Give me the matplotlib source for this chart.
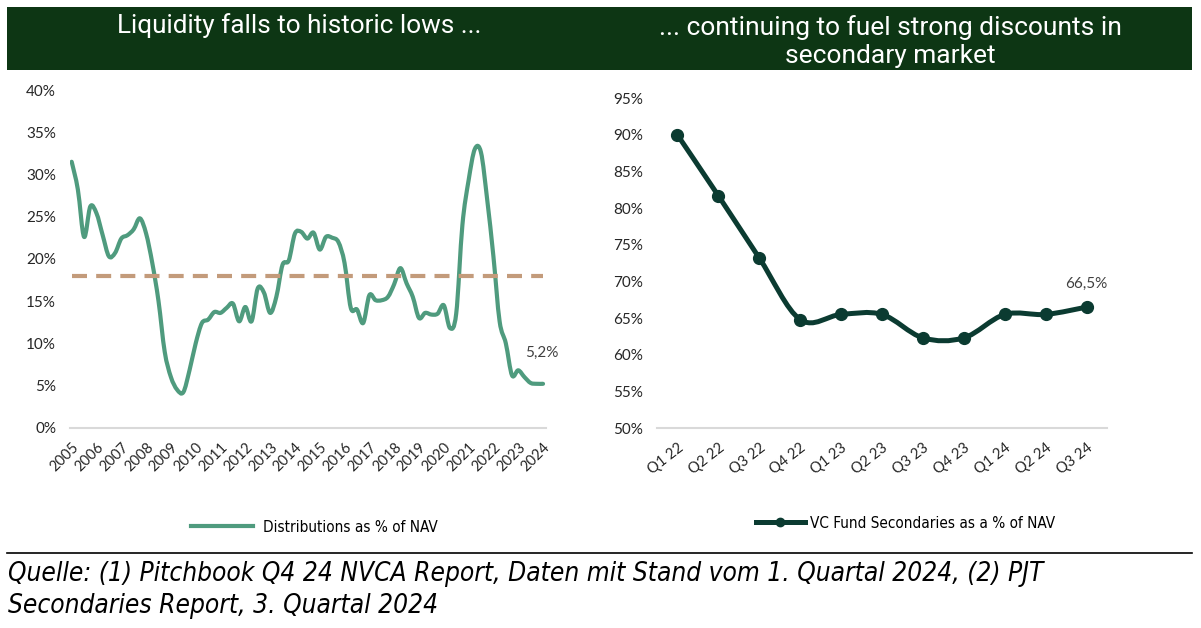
import matplotlib
matplotlib.use("Agg")
import matplotlib.pyplot as plt
from matplotlib.path import Path
from matplotlib.patches import PathPatch, Rectangle
from matplotlib.lines import Line2D
from matplotlib import font_manager as fm

# ---------------- data ----------------
years = [str(y) for y in range(2005, 2025)]
# quarterly distributions as % of NAV, Q1 2005 .. Q1 2024
distributions = [
    31.5, 28.2, 22.6, 26.2, 25.4, 22.8, 20.3, 20.7, 22.4, 22.8,
    23.5, 24.8, 23.0, 19.5, 15.0, 9.0, 6.0, 4.5, 4.2, 6.8,
    10.0, 12.4, 12.8, 13.7, 13.6, 14.2, 14.7, 12.6, 14.3, 12.6,
    16.5, 16.0, 13.6, 15.5, 19.3, 19.8, 23.0, 23.2, 22.4, 23.1,
    21.1, 22.6, 22.5, 22.0, 19.5, 14.2, 14.0, 12.4, 15.7, 15.1,
    15.1, 15.5, 17.0, 18.9, 17.1, 15.5, 13.0, 13.6, 13.4, 13.5,
    14.5, 11.8, 13.5, 24.0, 29.3, 33.0, 32.6, 27.0, 20.3, 12.6,
    10.0, 6.2, 6.8, 6.0, 5.3, 5.2, 5.2,
]
dist_average = 18.0
dist_label = "5,2%"

quarters = ["Q1 22", "Q2 22", "Q3 22", "Q4 22", "Q1 23", "Q2 23",
            "Q3 23", "Q4 23", "Q1 24", "Q2 24", "Q3 24"]
secondaries = [90.0, 81.7, 73.2, 64.8, 65.5, 65.5, 62.3, 62.3, 65.5, 65.5, 66.5]
sec_label = "66,5%"

title_left = "Liquidity falls to historic lows ..."
title_right = "... continuing to fuel strong discounts in\nsecondary market"
legend_left = "Distributions as % of NAV"
legend_right = "VC Fund Secondaries as a % of NAV"
source = ("Quelle: (1) Pitchbook Q4 24 NVCA Report, Daten mit Stand vom 1. Quartal 2024, (2) PJT\n"
          "Secondaries Report, 3. Quartal 2024")

# ---------------- style ----------------
GREEN = "#4f9b7e"
TAN = "#c39b7b"
DARK = "#0b3b31"
BAR = "#0d3614"
TICK_FONT = "Lato"

cond = [f for f in fm.fontManager.ttflist
        if ("Narrow" in f.name or "Condensed" in f.name or
            (isinstance(f.stretch, str) and "condensed" in f.stretch) or
            (isinstance(f.stretch, int) and f.stretch < 500))]
NARROW_FAMILY = cond[0].name if cond else "DejaVu Sans"
NARROW_STRETCH = cond[0].stretch if cond else "normal"

W, H = 1201, 628
fig = plt.figure(figsize=(W / 100, H / 100), dpi=100)


def smooth_path(xs, ys):
    verts = [(xs[0], ys[0])]
    codes = [Path.MOVETO]
    n = len(xs)
    for i in range(n - 1):
        i0 = i - 1 if i > 0 else i
        i3 = i + 2 if i + 2 < n else i + 1
        c1 = (xs[i] + (xs[i + 1] - xs[i0]) / 6.0, ys[i] + (ys[i + 1] - ys[i0]) / 6.0)
        c2 = (xs[i + 1] - (xs[i3] - xs[i]) / 6.0, ys[i + 1] - (ys[i3] - ys[i]) / 6.0)
        verts += [c1, c2, (xs[i + 1], ys[i + 1])]
        codes += [Path.CURVE4] * 3
    return Path(verts, codes)


def style_axes(ax):
    for s in ["left", "right", "top"]:
        ax.spines[s].set_visible(False)
    ax.spines["bottom"].set_color("#d9d9d9")
    ax.spines["bottom"].set_linewidth(1.5)
    ax.tick_params(length=0)
    ax.yaxis.set_tick_params(pad=10)
    for lab in ax.get_yticklabels():
        lab.set_fontfamily(TICK_FONT)
        lab.set_fontsize(11)
        lab.set_color("#262626")


def fig_box(x0, y0, x1, y1):
    return [x0 / W, 1 - y1 / H, (x1 - x0) / W, (y1 - y0) / H]


# ---------------- header bar ----------------
fig.patches.append(Rectangle((7 / W, 1 - 70 / H), (1192 - 7) / W, 63 / H,
                             transform=fig.transFigure, facecolor=BAR, edgecolor="none"))
fig.text(299 / W, 1 - 26 / H, title_left, color="white", fontsize=18.8,
         family="Roboto", ha="center", va="center")
fig.text(890 / W, 1 - 41.5 / H, title_right, color="white", fontsize=19,
         family="Roboto", ha="center", va="center", linespacing=1.25)

# ---------------- left chart ----------------
axL = fig.add_axes(fig_box(70, 90, 546, 427.7))
xl = list(range(len(distributions)))
axL.add_patch(PathPatch(smooth_path(xl, distributions), fill=False, edgecolor=GREEN,
                        lw=3.0, capstyle="round", joinstyle="round"))
axL.plot([xl[0], xl[-1]], [dist_average, dist_average], color=TAN, lw=3.0,
         dashes=(3.6, 2.2), solid_capstyle="butt")
axL.set_xlim(-0.27, len(distributions) - 1 + 0.48)
axL.set_ylim(0, 40)
axL.set_yticks(range(0, 41, 5))
axL.set_yticklabels([f"{v}%" for v in range(0, 41, 5)])
axL.set_xticks(xl[::4])
axL.set_xticklabels(years, rotation=45, ha="right", va="top", rotation_mode="anchor",
                    family=TICK_FONT, fontsize=10.5, color="#262626")
axL.xaxis.set_tick_params(pad=9)
style_axes(axL)
axL.annotate(dist_label, (xl[-1], distributions[-1]), xytext=(-1, 17),
             textcoords="offset points", ha="center", va="bottom",
             family=TICK_FONT, fontsize=11, color="#404040")

# ---------------- right chart ----------------
axR = fig.add_axes(fig_box(657, 98.3, 1107, 428))
xr = list(range(len(secondaries)))
axR.add_patch(PathPatch(smooth_path(xr, secondaries), fill=False, edgecolor=DARK,
                        lw=3.6, capstyle="round", joinstyle="round"))
axR.plot(xr, secondaries, linestyle="none", marker="o", markersize=8.5,
         color=DARK)
axR.set_xlim(-0.5, len(secondaries) - 0.5)
axR.set_ylim(50, 95)
axR.set_yticks(range(50, 96, 5))
axR.set_yticklabels([f"{v}%" for v in range(50, 96, 5)])
axR.set_xticks(xr)
axR.set_xticklabels(quarters, rotation=38, ha="right", va="top", rotation_mode="anchor",
                    family=TICK_FONT, fontsize=10.5, color="#262626")
axR.xaxis.set_tick_params(pad=9)
style_axes(axR)
axR.annotate(sec_label, (xr[-1], secondaries[-1]), xytext=(0, 12),
             textcoords="offset points", ha="center", va="bottom",
             family=TICK_FONT, fontsize=11, color="#404040")

# ---------------- legends ----------------
legend_prop = fm.FontProperties(family=[NARROW_FAMILY, "DejaVu Sans"], stretch=NARROW_STRETCH, size=11)
hL = Line2D([], [], color=GREEN, lw=3.0)
fig.legend([hL], [legend_left], loc="center left",
           bbox_to_anchor=(177 / W, 1 - 527 / H), frameon=False,
           prop=legend_prop, handlelength=4.05, handletextpad=0.7)
hR = Line2D([], [], color=DARK, lw=3.6, marker="o", markersize=6)
fig.legend([hR], [legend_right], loc="center left",
           bbox_to_anchor=(742 / W, 1 - 523 / H), frameon=False,
           prop=legend_prop, handlelength=3.2, handletextpad=0.33)

# ---------------- footer ----------------
fig.add_artist(Line2D([7 / W, 1192 / W], [1 - 553 / H, 1 - 553 / H],
                      transform=fig.transFigure, color="black", lw=1.2))
fig.text(8 / W, 1 - 590 / H, source, family=[NARROW_FAMILY, "DejaVu Sans"],
         stretch=NARROW_STRETCH, style="italic", fontsize=18.8,
         color="black", ha="left", va="center", linespacing=1.32)

fig.savefig("out.png", dpi=100)
